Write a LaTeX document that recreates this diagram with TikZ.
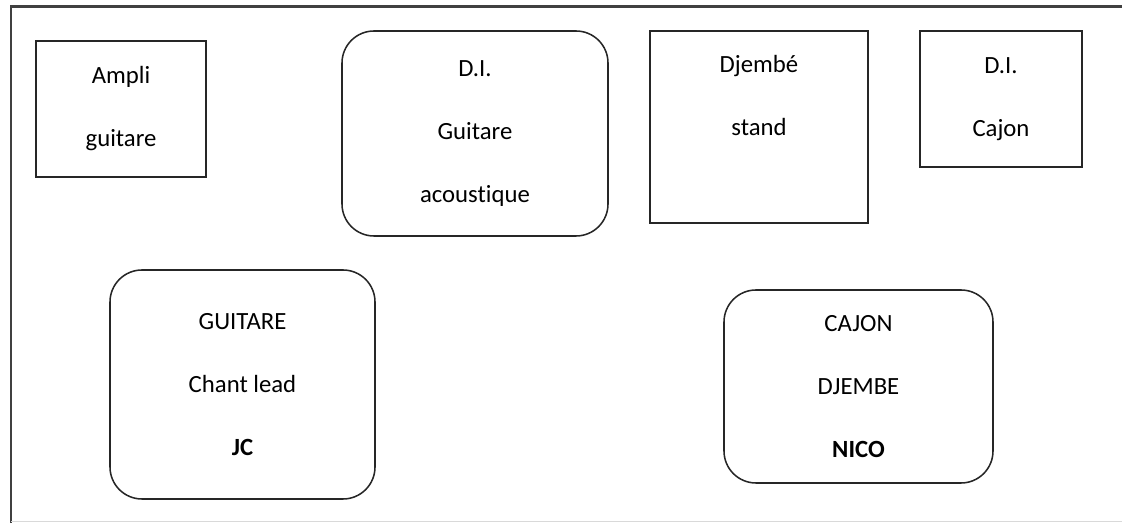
\documentclass[tikz,border=0pt]{standalone}
\usepackage{fontspec}
\setmainfont{Carlito}[Ligatures=NoCommon]
\tikzstyle{box} = [draw=black!85, line width=1.1pt, rectangle, align=center,
    font=\fontsize{17.6}{44.8}\selectfont]
\tikzstyle{rbox} = [box, rounded corners=0.8cm]
\tikzstyle{frame} = [draw=black!75, line width=1.6pt]

\begin{document}
\begin{tikzpicture}
    \useasboundingbox (0,0) rectangle (28.05,13.075);
    % stage frame
    \coordinate (topleft) at (0.275,12.9125);
    \coordinate (topright) at (28.05,12.9125);
    \coordinate (botleft) at (0.275,0);
    \coordinate (floorleft) at (0.275,0.0375);
    \coordinate (floorright) at (28.05,0.0375);
    \draw [frame] (topright) -- (topleft) -- (botleft);
    \draw [draw=black!15, line width=1pt] (floorleft) -- (floorright);
    % back line
    \node [box, minimum width=4.25cm, minimum height=3.4cm] (ampli) at (3.025,10.35) {Ampli\\guitare};
    \node [rbox, minimum width=6.65cm, minimum height=5.125cm] (diguitare) at (11.875,9.7375) {D.I.\\Guitare\\acoustique};
    \node [box, minimum width=5.45cm, minimum height=4.8cm] (stand) at (18.975,9.9) {Djembé\\stand\\\mbox{}};
    \node [box, minimum width=4.05cm, minimum height=3.4cm] (dicajon) at (25.025,10.6) {D.I.\\Cajon};
    % musicians
    \node [rbox, minimum width=6.625cm, minimum height=5.725cm] (jc) at (6.0625,3.4625) {GUITARE\\Chant lead\\\textbf{JC}};
    \node [rbox, minimum width=6.725cm, minimum height=4.825cm] (nico) at (21.4625,3.4125) {CAJON\\DJEMBE\\\textbf{NICO}};
\end{tikzpicture}
\end{document}
